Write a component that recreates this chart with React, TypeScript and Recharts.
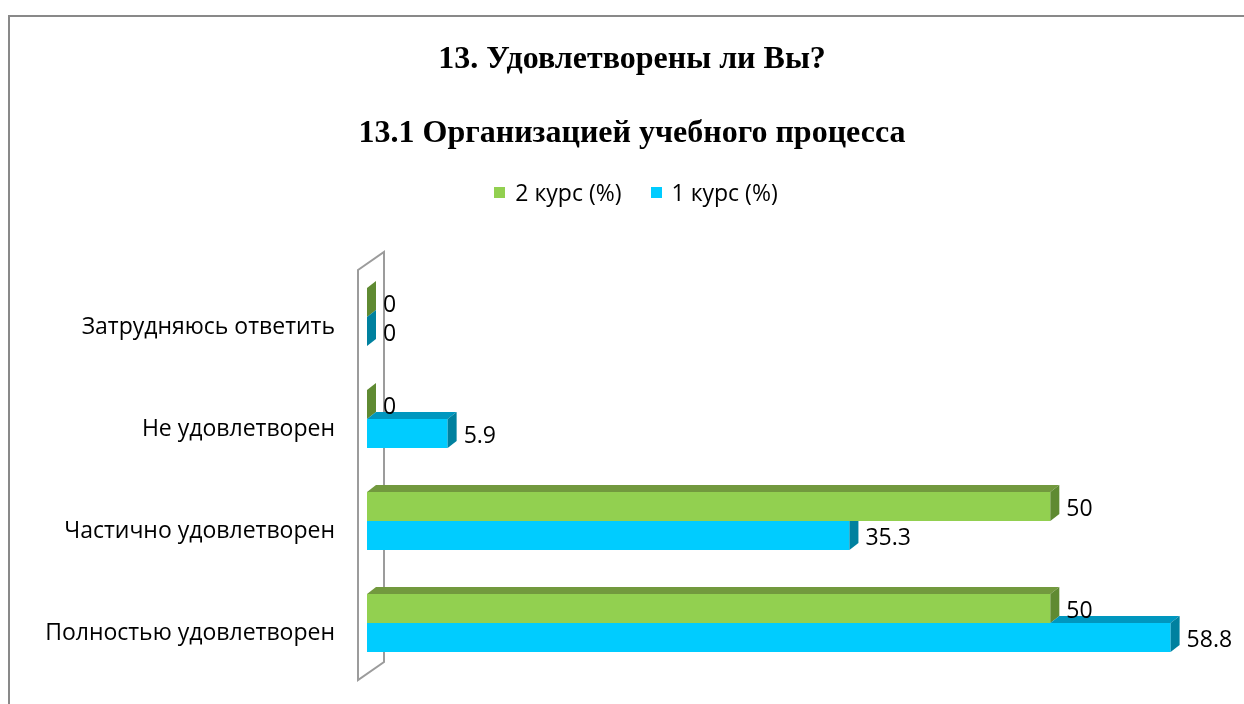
import React from "react";
import { Bar, BarChart, LabelList, ReferenceArea, XAxis, YAxis } from "recharts";

const categories = ["Затрудняюсь ответить", "Не удовлетворен", "Частично удовлетворен", "Полностью удовлетворен"];
const course2 = [0, 0, 50, 50];
const course1 = [0, 5.9, 35.3, 58.8];
const seriesNames = ["2 курс (%)", "1 курс (%)"];

const data = categories.map((name, i) => ({ name, c2: course2[i], c1: course1[i] }));

const font = "'Open Sans', 'Noto Sans', sans-serif";
const serif = "'Liberation Serif', 'Times New Roman', serif";
const DX = 9;
const DY = 7;

const green = { front: "#92d050", top: "#72993e", side: "#5f8a32" };
const blue = { front: "#00ccff", top: "#0097bf", side: "#00819f" };

const GreenBar = (props: any) => {
  const { x, y, width, height } = props;
  const w = Math.max(width || 0, 0);
  return (
    <g>
      {w > 0 && <rect x={x} y={y} width={w} height={height} fill={green.front} />}
      <polygon points={`${x},${y} ${x + DX},${y - DY} ${x + w + DX},${y - DY} ${x + w},${y}`} fill={green.top} />
      <polygon points={`${x + w},${y} ${x + w + DX},${y - DY} ${x + w + DX},${y + height - DY} ${x + w},${y + height}`} fill={green.side} />
    </g>
  );
};

const BlueBar = (props: any) => {
  const { x, y, width, height, payload } = props;
  const w = Math.max(width || 0, 0);
  // width of the green bar above, from the same scale
  const gw = payload.c1 > 0 ? (w / payload.c1) * payload.c2 : 0;
  const topStart = Math.min(gw, w);
  const hidden = gw > w;
  return (
    <g>
      {w > 0 && <rect x={x} y={y} width={w} height={height} fill={blue.front} />}
      {!hidden && (
        <polygon
          points={`${x + topStart},${y} ${x + topStart + DX},${y - DY} ${x + w + DX},${y - DY} ${x + w},${y}`}
          fill={blue.top}
        />
      )}
      <polygon
        points={
          hidden
            ? `${x + w},${y} ${x + w + DX},${y} ${x + w + DX},${y + height - DY} ${x + w},${y + height}`
            : `${x + w},${y} ${x + w + DX},${y - DY} ${x + w + DX},${y + height - DY} ${x + w},${y + height}`
        }
        fill={blue.side}
      />
    </g>
  );
};

const Wall = (props: any) => {
  const { x, y, height } = props;
  const b = y + height;
  return (
    <path
      d={`M${x - 9},${y + 4} L${x + 17},${y - 14} L${x + 17},${b - 12} L${x - 9},${b + 6} Z`}
      fill="#fff"
      stroke="#9c9c9c"
      strokeWidth={2}
    />
  );
};

const ValueLabel = (props: any) => {
  const { x, y, width, height, value } = props;
  return (
    <text x={x + Math.max(width, 0) + 16} y={y + height / 2} dominantBaseline="central" fontSize={23} fontFamily={font} fill="#000">
      {value}
    </text>
  );
};

const CategoryTick = (props: any) => {
  const { x, y, payload } = props;
  return (
    <text x={x} y={y + 8} textAnchor="end" dominantBaseline="central" fontSize={23} fontFamily={font} fill="#000">
      {payload.value}
    </text>
  );
};

const ChartLegend = () => (
  <div style={{ position: "absolute", left: 0, top: 168, width: 1256, display: "flex", justifyContent: "center", fontFamily: font, fontSize: 23, color: "#000" }}>
    {seriesNames.map((n, i) => (
      <div key={n} style={{ display: "flex", alignItems: "center", marginLeft: i ? 29 : 0 }}>
        <span style={{ width: 11, height: 11, background: i ? blue.front : green.front, marginRight: 10 }} />
        <span>{n}</span>
      </div>
    ))}
  </div>
);

export default function App() {
  return (
    <div style={{ position: "relative", width: 1228, height: 688, overflow: "hidden", fontFamily: font }}>
      <div
        style={{
          position: "fixed",
          left: 8,
          top: 15,
          width: 1400,
          height: 900,
          borderLeft: "2px solid #898989",
          borderTop: "2px solid #898989",
        }}
      />
      <div style={{ position: "absolute", left: 0, width: 1248, top: 31, textAlign: "center", fontFamily: serif, fontWeight: "bold", fontSize: 32 }}>
        13. Удовлетворены ли Вы?
      </div>
      <div style={{ position: "absolute", left: 0, width: 1248, top: 105, textAlign: "center", fontFamily: serif, fontWeight: "bold", fontSize: 32 }}>
        13.1 Организацией учебного процесса
      </div>
      <ChartLegend />
      <div style={{ position: "absolute", left: 0, top: 0 }}>
        <BarChart
          width={1228}
          height={688}
          data={data}
          layout="vertical"
          barSize={29}
          barGap={0}
          margin={{ top: 258, right: 49, bottom: 22, left: 0 }}
        >
          <XAxis type="number" domain={[0, 60]} hide />
          <YAxis type="category" dataKey="name" width={359} axisLine={false} tickLine={false} tickMargin={26} tick={<CategoryTick />} />
          <ReferenceArea x1={0} x2={1} shape={<Wall />} ifOverflow="visible" />
          <Bar dataKey="c2" name={seriesNames[0]} fill={green.front} shape={<GreenBar />} isAnimationActive={false}>
            <LabelList dataKey="c2" content={<ValueLabel />} />
          </Bar>
          <Bar dataKey="c1" name={seriesNames[1]} fill={blue.front} shape={<BlueBar />} isAnimationActive={false}>
            <LabelList dataKey="c1" content={<ValueLabel />} />
          </Bar>
        </BarChart>
      </div>
    </div>
  );
}
